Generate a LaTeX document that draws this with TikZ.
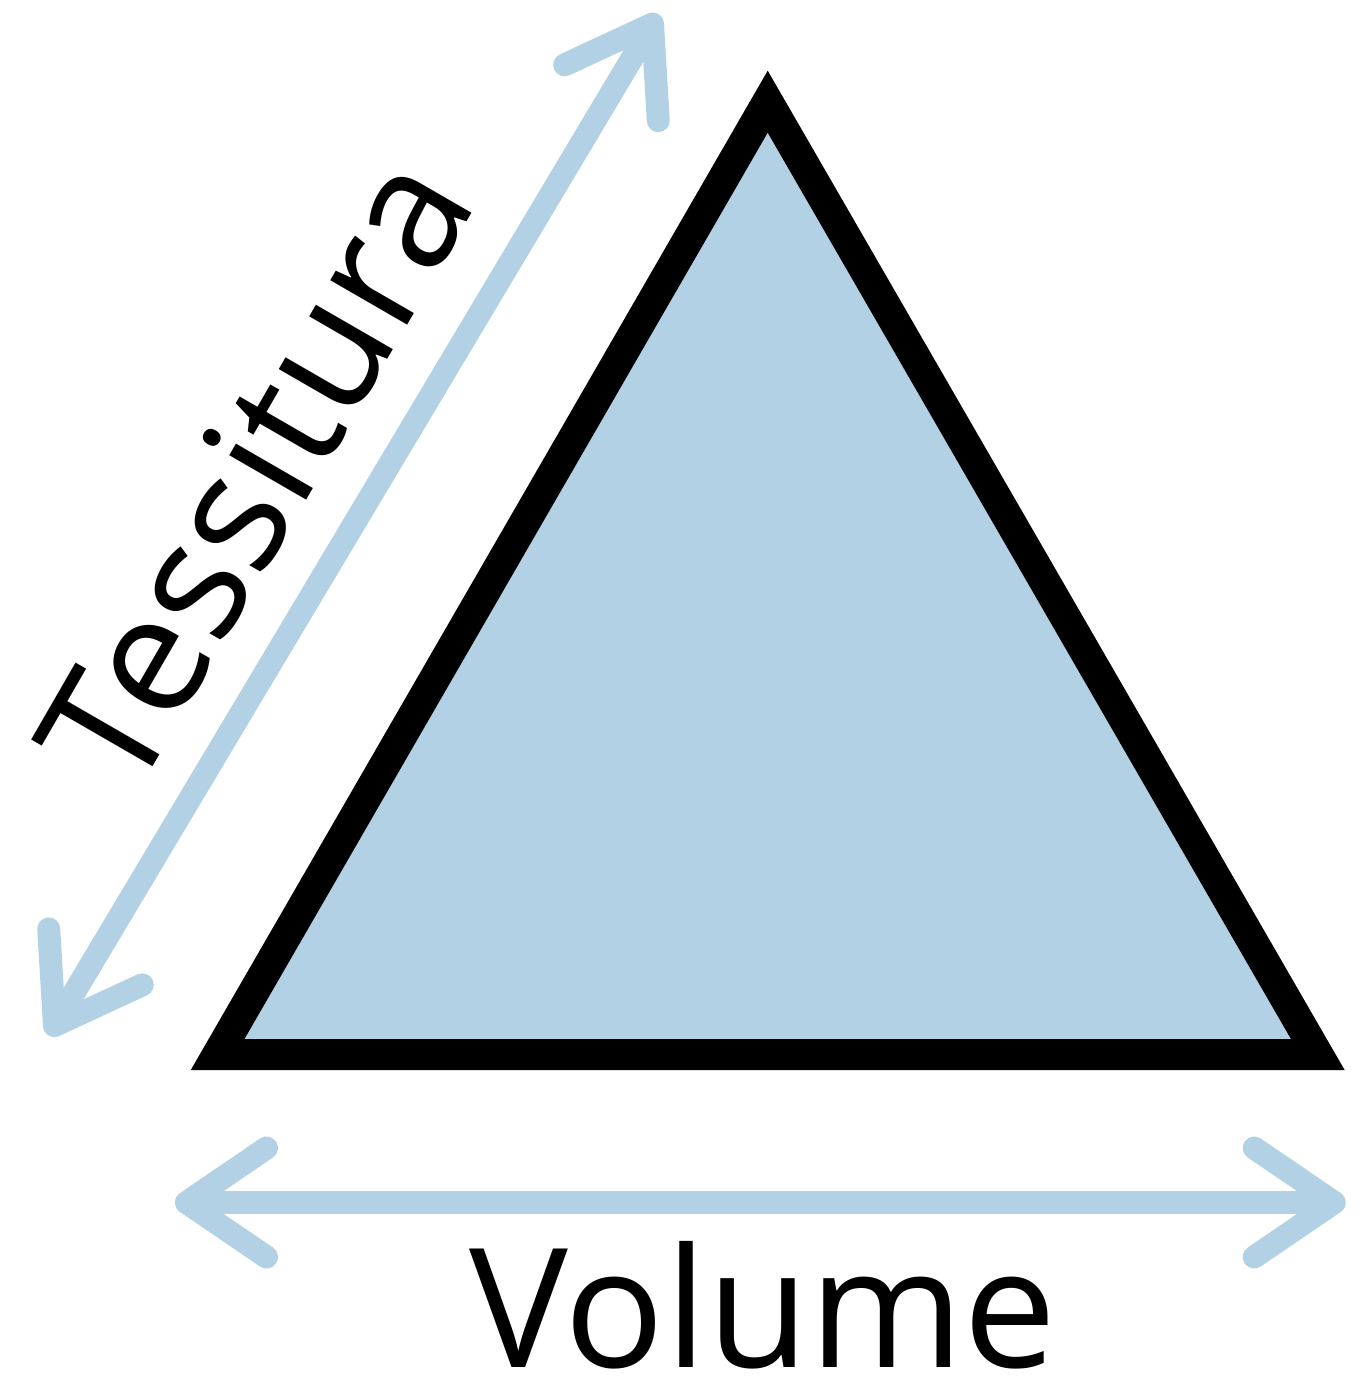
\documentclass[tikz,border=0pt]{standalone}
\usepackage{fontspec}
\setmainfont{Open Sans}
\usetikzlibrary{arrows.meta}
\definecolor{paleblue}{RGB}{179,209,229}

\begin{document}
\begin{tikzpicture}[
        x=1pt, y=-1pt,
        axislabel/.style={inner sep=0pt, anchor=base, font=\fontsize{166}{180}\selectfont},
        barb/.tip={Straight Barb[length=80pt, width=109pt, round]},
        arrow/.style={barb-barb, paleblue, line width=23pt, line cap=round}
    ]
    \useasboundingbox (0,0) rectangle (1370,1380);

    % Triangle
    \coordinate (tri-top) at (767.7,101.7);
    \coordinate (tri-left) at (217.5,1054.7);
    \coordinate (tri-right) at (1317.9,1054.7);
    \draw[line width=31pt, fill=paleblue] (tri-top) -- (tri-right) -- (tri-left) -- cycle;

    % Arrow ends
    \coordinate (vol-l) at (175,1202.5);
    \coordinate (vol-r) at (1345.7,1202.5);
    \coordinate (tes-b) at (48.6,1035.4);
    \coordinate (tes-t) at (658.4,14.2);

    % Arrows
    \draw[arrow] (vol-l) -- (vol-r);
    \draw[arrow] (tes-b) -- (tes-t);

    % Labels
    \node[axislabel] (volume) at (763,1367) {Volume};
    \node[axislabel, rotate=60] (tessitura) at (306,501) {Tessitura};
\end{tikzpicture}
\end{document}
